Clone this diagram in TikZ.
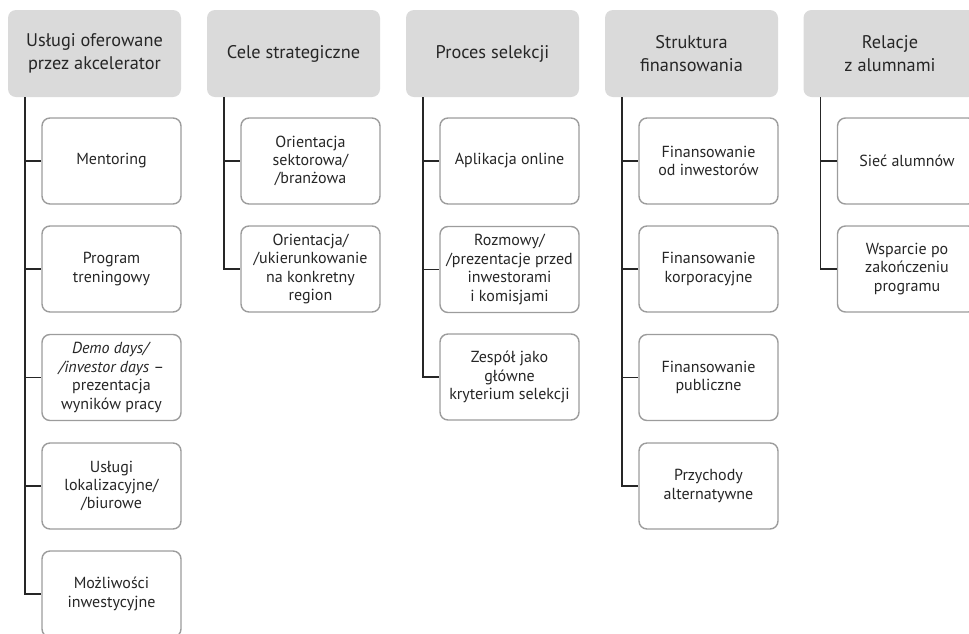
\documentclass[tikz,border=0pt]{standalone}
\usepackage{fontspec}
\setmainfont{PT Sans}
\definecolor{hdrfill}{HTML}{DADADA}
\definecolor{boxline}{HTML}{9C9C9C}
\definecolor{txt}{HTML}{262626}
\tikzset{
  hdr/.style={fill=hdrfill, draw=none, rounded corners=8pt, minimum width=173pt, minimum height=87pt, inner sep=0pt, align=center, text=txt, font=\fontsize{18.3}{23}\selectfont},
  item/.style={draw=boxline, line width=1.4pt, fill=white, rounded corners=8pt, minimum width=139pt, minimum height=86pt, inner sep=0pt, align=center, text=txt, font=\fontsize{16}{18.4}\selectfont},
  conn/.style={draw=black!85, line width=1.4pt}
}
\begin{document}
\begin{tikzpicture}[x=1pt,y=-1pt]
\useasboundingbox (0,0) rectangle (969,633);
\clip (0,0) rectangle (969,633);
% headers
\node[hdr] (h1) at (94.5,53.5) {Usługi oferowane\\przez akcelerator};
\node[hdr] (h2) at (293.5,53.5) {Cele strategiczne};
\node[hdr] (h3) at (492.5,53.5) {Proces selekcji};
\node[hdr] (h4) at (691.5,53.5) {Struktura\\finansowania};
\node[hdr] (h5) at (890,53.5) {Relacje\\z alumnami};
% column 1
\node[item] (c11) at (111.5,161) {Mentoring};
\node[item] (c12) at (111.5,269) {Program\\treningowy};
\node[item] (c13) at (111.5,377.5) {\textit{Demo days/}\\\textit{/investor days} –\\prezentacja\\wyników pracy};
\node[item] (c14) at (111.5,486) {Usługi\\lokalizacyjne/\\/biurowe};
\node[item] (c15) at (111.5,594) {Możliwości\\inwestycyjne};
% column 2
\node[item] (c21) at (310.5,161) {Orientacja\\sektorowa/\\/branżowa};
\node[item] (c22) at (310.5,269) {Orientacja/\\/ukierunkowanie\\na konkretny\\region};
% column 3
\node[item] (c31) at (509.5,161) {Aplikacja online};
\node[item] (c32) at (509.5,269.5) {Rozmowy/\\/prezentacje przed\\inwestorami\\i komisjami};
\node[item] (c33) at (509.5,377) {Zespół jako\\główne\\kryterium selekcji};
% column 4
\node[item] (c41) at (708.5,161) {Finansowanie\\od inwestorów};
\node[item] (c42) at (708.5,269) {Finansowanie\\korporacyjne};
\node[item] (c43) at (708.5,377.5) {Finansowanie\\publiczne};
\node[item] (c44) at (708.5,486) {Przychody\\alternatywne};
% column 5
\node[item] (c51) at (907,161) {Sieć alumnów};
\node[item] (c52) at (907,269) {Wsparcie po\\zakończeniu\\programu};
% trunk tops
\coordinate (t1) at ([xshift=17pt]h1.south west);
\coordinate (t2) at ([xshift=17pt]h2.south west);
\coordinate (t3) at ([xshift=17pt]h3.south west);
\coordinate (t4) at ([xshift=17pt]h4.south west);
\coordinate (t5) at ([xshift=17pt]h5.south west);
% connectors
\draw[conn] (t1) |- (c15.west);
\foreach \c in {c11,c12,c13,c14} \draw[conn] (t1 |- \c.west) -- (\c.west);
\draw[conn] (t2) |- (c22.west);
\draw[conn] (t2 |- c21.west) -- (c21.west);
\draw[conn] (t3) |- (c33.west);
\foreach \c in {c31,c32} \draw[conn] (t3 |- \c.west) -- (\c.west);
\draw[conn] (t4) |- (c44.west);
\foreach \c in {c41,c42,c43} \draw[conn] (t4 |- \c.west) -- (\c.west);
\draw[conn] (t5) |- (c52.west);
\draw[conn] (t5 |- c51.west) -- (c51.west);
\end{tikzpicture}
\end{document}
